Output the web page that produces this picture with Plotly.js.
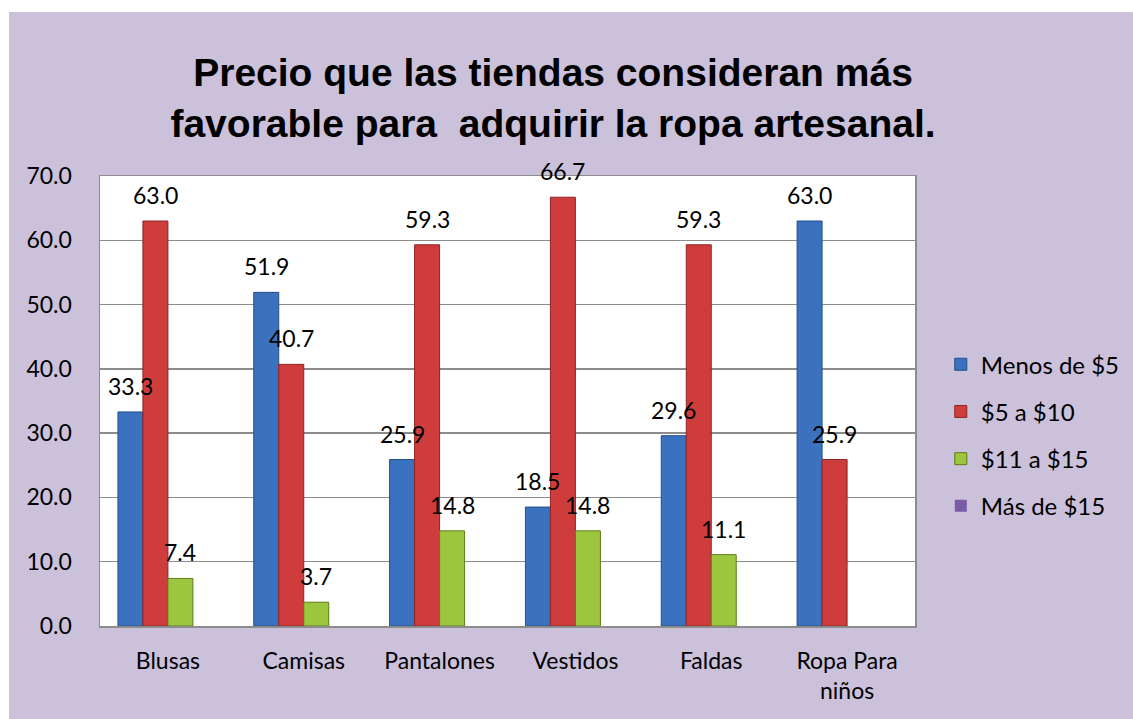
<!DOCTYPE html>
<html>
<head>
<meta charset="utf-8">
<script src="https://cdn.plot.ly/plotly-3.0.1.min.js"></script>
<style>
html,body{margin:0;padding:0;background:#ffffff;}
#chart{position:absolute;left:9px;top:12px;width:1124px;height:707px;}
</style>
</head>
<body>
<div id="chart"></div>
<script>
const categories = ["Blusas", "Camisas", "Pantalones", "Vestidos", "Faldas", "Ropa Para<br>niños"];
const seriesNames = ["Menos de $5", "$5 a $10", "$11 a $15", "Más de $15"];
const menos5 = [33.3, 51.9, 25.9, 18.5, 29.6, 63.0];
const de5a10 = [63.0, 40.7, 59.3, 66.7, 59.3, 25.9];
const de11a15 = [7.4, 3.7, 14.8, 14.8, 11.1, 0];
const mas15 = [0, 0, 0, 0, 0, 0];
const yTicks = [0, 10, 20, 30, 40, 50, 60, 70];

const seriesValues = [menos5, de5a10, de11a15, mas15];
const colors = ["#3A72BF", "#CF3C3C", "#9CC63E", "#7A5CA6"];
const edge = ["#234E87", "#8E2424", "#5E7D1E", "#4C3870"];

const W = 1124, H = 707;
const margin = {l: 91, r: 218, t: 164, b: 93};
const bargap = 0.264;
const plotW = W - margin.l - margin.r;
const catW = plotW / categories.length;
const barW = catW * (1 - bargap) / seriesValues.length;

const font = "Lato, 'Open Sans', sans-serif";

const traces = seriesValues.map((vals, i) => ({
  type: "bar",
  name: seriesNames[i],
  x: categories,
  y: vals,
  marker: {color: colors[i], line: {color: edge[i], width: vals.map(v => v > 0 ? 1 : 0)}},
  legendgroup: "g" + i,
  hoverinfo: "x+y+name"
}));

const annotations = [];
seriesValues.forEach((vals, i) => {
  const off = (i - (seriesValues.length - 1) / 2) * barW;
  vals.forEach((v, j) => {
    if (v > 0) {
      annotations.push({
        x: categories[j], y: v, xref: "x", yref: "y",
        text: v.toFixed(1), showarrow: false,
        xanchor: "center", yanchor: "middle",
        xshift: off, yshift: 26,
        font: {family: font, size: 23, color: "#000000"}
      });
    }
  });
});

const layout = {
  width: W, height: H,
  paper_bgcolor: "#CBC1DB",
  plot_bgcolor: "#FFFFFF",
  margin: margin,
  barmode: "group",
  bargap: bargap,
  bargroupgap: 0,
  title: {
    text: "<b>Precio que las tiendas consideran más<br>favorable para  adquirir la ropa artesanal.</b>",
    x: 0.484, xref: "container", xanchor: "center",
    y: 0.895, yref: "container", yanchor: "top",
    font: {family: "'Liberation Sans', Arial, sans-serif", size: 39, color: "#000000"}
  },
  xaxis: {
    tickfont: {family: font, size: 23, color: "#000000"},
    showline: true, linecolor: "#8C8C8C", linewidth: 1.5,
    mirror: true, ticks: "", showgrid: false,
    ticklabelstandoff: 14
  },
  yaxis: {
    range: [0, 70],
    tickvals: yTicks,
    tickformat: ".1f",
    tickfont: {family: font, size: 23, color: "#000000"},
    showgrid: true, gridcolor: "#8C8C8C", gridwidth: 1.5,
    showline: true, linecolor: "#8C8C8C", linewidth: 1.5, mirror: true,
    ticks: "", ticklen: 0, zeroline: false,
    ticklabelstandoff: 22,
    automargin: false
  },
  showlegend: true,
  legend: {
    xref: "container", yref: "container",
    x: 0.829, xanchor: "left", y: 0.533, yanchor: "top",
    font: {family: font, size: 24, color: "#000000"},
    bgcolor: "rgba(0,0,0,0)",
    traceorder: "grouped",
    tracegroupgap: 13,
    itemwidth: 30
  },
  annotations: annotations
};

Plotly.newPlot("chart", traces, layout, {displayModeBar: false, staticPlot: true});
</script>
</body>
</html>
